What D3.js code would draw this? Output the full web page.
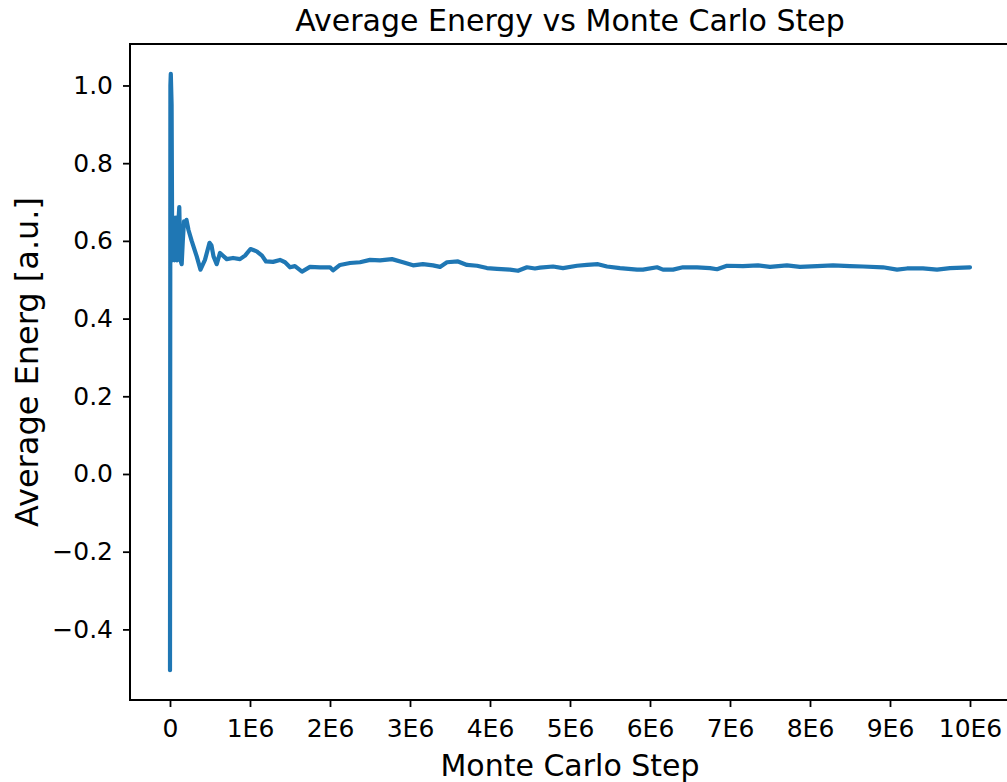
<!DOCTYPE html>
<html>
	<head>
		<meta charset="utf-8">
		<style type="text/css">
			body  { margin: 0; background: #fff; overflow: hidden; }
			text  { font-family: "DejaVu Sans", sans-serif; fill: #000; }
		</style>
		<title>Average Energy vs Monte Carlo Step</title>
	</head>
	<body>
		<script src="https://cdn.jsdelivr.net/npm/d3@7"></script>
		<script>

// data //////////////////////////////////////////////

var steps = [
	0, 5000, 10000, 20000, 28000, 34000, 40000, 47000, 55000, 63000,
	75000, 82000, 88000, 100000, 116000, 124000, 132000, 146000, 160000, 175000,
	190000, 206000, 231000, 271000, 334000, 381000, 437000, 494000, 519000,
	544000, 584000, 625000, 709000, 788000, 875000, 938000, 1006000, 1084000, 1150000,
	1200000, 1288000, 1375000, 1438000, 1500000, 1562000, 1650000, 1750000, 1875000, 2000000,
	2038000, 2125000, 2250000, 2375000, 2500000, 2625000, 2775000, 2912000, 3038000, 3162000,
	3288000, 3375000, 3462000, 3600000, 3712000, 3838000, 3962000, 4088000, 4250000, 4350000,
	4462000, 4562000, 4625000, 4788000, 4912000, 5088000, 5212000, 5350000, 5462000, 5625000,
	5838000, 5912000, 6088000, 6162000, 6288000, 6412000, 6588000, 6750000, 6838000, 6962000,
	7162000, 7350000, 7500000, 7712000, 7875000, 8088000, 8288000, 8500000, 8662000, 8912000,
	9088000, 9212000, 9412000, 9588000, 9750000, 10000000
];

var energy = [
	-0.505, 1.0, 1.03, 0.95, 0.55, 0.64, 0.56, 0.66, 0.55, 0.63,
	0.66, 0.57, 0.55, 0.63, 0.687, 0.6, 0.55, 0.54, 0.6, 0.65,
	0.64, 0.654, 0.628, 0.6, 0.56, 0.526, 0.551, 0.595, 0.588,
	0.56, 0.54, 0.569, 0.553, 0.556, 0.553, 0.562, 0.579, 0.573, 0.562,
	0.547, 0.546, 0.551, 0.545, 0.532, 0.535, 0.521, 0.533, 0.532, 0.532,
	0.524, 0.538, 0.543, 0.545, 0.551, 0.55, 0.553, 0.545, 0.537, 0.54,
	0.537, 0.533, 0.545, 0.547, 0.538, 0.536, 0.53, 0.528, 0.526, 0.523,
	0.532, 0.529, 0.531, 0.534, 0.53, 0.536, 0.538, 0.54, 0.534, 0.53,
	0.526, 0.526, 0.532, 0.526, 0.526, 0.532, 0.532, 0.53, 0.527, 0.536,
	0.535, 0.537, 0.533, 0.537, 0.533, 0.535, 0.537, 0.535, 0.534, 0.532,
	0.526, 0.529, 0.529, 0.526, 0.53, 0.532
];

var x_ticks = [0, 1e6, 2e6, 3e6, 4e6, 5e6, 6e6, 7e6, 8e6, 9e6, 10e6];
var y_ticks = [-0.4, -0.2, 0.0, 0.2, 0.4, 0.6, 0.8, 1.0];

var title   = "Average Energy vs Monte Carlo Step";
var x_label = "Monte Carlo Step";
var y_label = "Average Energ [a.u.]";

// layout ///////////////////////////////////////////////////////////////////

var W = 1007, H = 782;
var box = {left: 130, right: 1010, top: 44, bottom: 700};

var svg = d3.select('body').append('svg')
	.attr('width', W)
	.attr('height', H);

// matplotlib-like 5% margins
var xr = d3.extent(steps), yr = d3.extent(energy);
var xm = (xr[1] - xr[0]) * 0.05, ym = (yr[1] - yr[0]) * 0.05;

var x = d3.scaleLinear()
	.domain([xr[0] - xm, xr[1] + xm])
	.range([box.left, box.right]);

var y = d3.scaleLinear()
	.domain([yr[0] - ym, yr[1] + ym])
	.range([box.bottom, box.top]);

var pts = steps.map((s, i) => [s, energy[i]]);

var line = d3.line()
	.x(d => x(d[0]))
	.y(d => y(d[1]));

svg.append('path')
	.attr('d', line(pts))
	.attr('fill', 'none')
	.attr('stroke', '#1f77b4')
	.attr('stroke-width', 4.2)
	.attr('stroke-linejoin', 'round')
	.attr('stroke-linecap', 'round');

// axes //

const xAxis = d3.axisBottom(x)
	.tickValues(x_ticks)
	.tickSize(7)
	.tickPadding(12)
	.tickFormat(d => d === 0 ? '0' : (d / 1e6) + 'E6');

const yAxis = d3.axisLeft(y)
	.tickValues(y_ticks)
	.tickSize(7)
	.tickPadding(10)
	.tickFormat(d3.format('.1f'));

var gx = svg.append('g')
	.attr('transform', `translate(0,${box.bottom})`)
	.call(xAxis);

var gy = svg.append('g')
	.attr('transform', `translate(${box.left},0)`)
	.call(yAxis);

[gx, gy].forEach(g => {
	g.select('.domain').remove();
	g.selectAll('.tick line').attr('stroke', '#000').attr('stroke-width', 1.8);
	g.selectAll('.tick text')
		.attr('font-size', 25)
		.attr('font-family', '"DejaVu Sans", sans-serif')
		.attr('fill', '#000');
});

// frame
svg.append('rect')
	.attr('x', box.left)
	.attr('y', box.top)
	.attr('width', box.right - box.left)
	.attr('height', box.bottom - box.top)
	.attr('fill', 'none')
	.attr('stroke', '#000')
	.attr('stroke-width', 2);

// labels //

svg.append('text')
	.attr('x', (box.left + box.right) / 2)
	.attr('y', 31)
	.attr('text-anchor', 'middle')
	.attr('font-size', 30)
	.text(title);

svg.append('text')
	.attr('x', (box.left + box.right) / 2)
	.attr('y', 776)
	.attr('text-anchor', 'middle')
	.attr('font-size', 30)
	.text(x_label);

svg.append('text')
	.attr('transform', `translate(38,362) rotate(-90)`)
	.attr('text-anchor', 'middle')
	.attr('font-size', 32)
	.text(y_label);

		</script>
	</body>
</html>
